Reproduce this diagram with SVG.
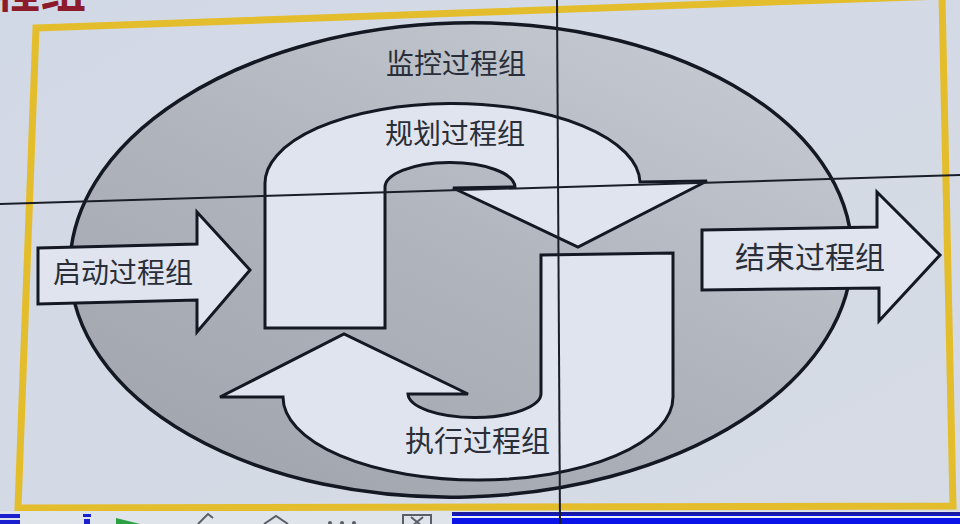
<svg xmlns="http://www.w3.org/2000/svg" width="960" height="524" viewBox="0 0 960 524">
<style>
.shape{fill:#dfe4ee;stroke:#141822;stroke-width:3;stroke-linejoin:miter}
.lbl{font-family:"Noto Sans CJK SC","Noto Sans",sans-serif;font-size:28px;fill:#2a2e38}
.seam{stroke:#1a1e28;stroke-width:2;fill:none}
.icon{fill:none;stroke:#5a5e68;stroke-width:2}
</style>
<defs>
<linearGradient id="bg" x1="0" y1="0" x2="1" y2="1">
<stop offset="0" stop-color="#d2d9e6"/>
<stop offset="1" stop-color="#d6dbe4"/>
</linearGradient>
<linearGradient id="ell" x1="0.1" y1="1" x2="0.9" y2="0">
<stop offset="0" stop-color="#9fa3ab"/>
<stop offset="0.5" stop-color="#b0b4bc"/>
<stop offset="1" stop-color="#c8ccd4"/>
</linearGradient>
</defs>
<rect width="960" height="524" fill="url(#bg)"/>
<text x="-6" y="7" style="font-family:'Noto Sans CJK SC',sans-serif;font-size:46px;font-weight:bold;fill:#8c1c2c">程组</text>
<g id="frame">
<polygon points="36,28 942,-4 953,506 18,508" fill="none" stroke="#e3bd2c" stroke-width="7"/>
</g>
<g id="monitoring">
<ellipse cx="461" cy="260" rx="391" ry="237" transform="rotate(-1.5 461 260)" fill="url(#ell)" stroke="#141822" stroke-width="3.5"/>
<text class="lbl" x="386" y="74">监控过程组</text>
</g>
<g id="planning">
<path class="shape" d="M265,328 L265,185 A187.5,80 0 0 1 640,182 L707,181 L578,247 L453,188 L515,187 A65,25 0 0 0 385,188 L385,328 Z"/>
<text class="lbl" x="385" y="144">规划过程组</text>
</g>
<g id="executing">
<path class="shape" d="M541,255 L673,253 L673,397 A195,83 0 0 1 283,397 L220,397 L344,334 L468,394 L408,394 A66.5,24 0 0 0 541,393 Z"/>
<text class="lbl" x="405" y="452" style="font-size:29px">执行过程组</text>
</g>
<g id="initiating">
<polygon class="shape" points="38,248 197,244 197,212 250,270 197,332 197,300 38,304"/>
<text class="lbl" x="53" y="283">启动过程组</text>
</g>
<g id="closing">
<polygon class="shape" points="702,230 877,227 877,192 940,255 879,321 879,288 702,290"/>
<text class="lbl" x="735" y="268" style="font-size:30px">结束过程组</text>
</g>
<g id="connectors"/>
<g id="toolbar">
<rect x="0" y="511" width="960" height="13" fill="#dfe3ea"/>
<rect x="452" y="512" width="508" height="12" fill="#0b14e8"/>
<rect x="452" y="512" width="508" height="3" fill="#1a1aa0"/>
<rect x="452" y="516" width="508" height="2" fill="#e8ecf4"/>
<rect x="0" y="514" width="20" height="4" fill="#1a20d0"/>
<rect x="0" y="520" width="20" height="4" fill="#1a20d0"/>
<rect x="83" y="514" width="8" height="3" fill="#1a20d0"/>
<rect x="84" y="519" width="6" height="5" fill="#1a20d0"/>
<polygon points="116,518 140,524 116,530" fill="#2aa040"/>
<path class="icon" d="M198,524 L208,514 L213,518"/>
<path class="icon" d="M264,524 L276,516 L288,524"/>
<circle cx="330" cy="523" r="2" fill="#5a5e68"/><circle cx="342" cy="523" r="2" fill="#5a5e68"/><circle cx="354" cy="523" r="2" fill="#5a5e68"/>
<rect class="icon" x="403" y="515" width="28" height="12"/>
<path class="icon" d="M411,517 L423,527 M423,517 L411,527"/>
</g>
<g id="seams">
<line class="seam" x1="0" y1="204" x2="960" y2="175"/>
<line class="seam" x1="557" y1="0" x2="560" y2="524"/>
</g>
</svg>
